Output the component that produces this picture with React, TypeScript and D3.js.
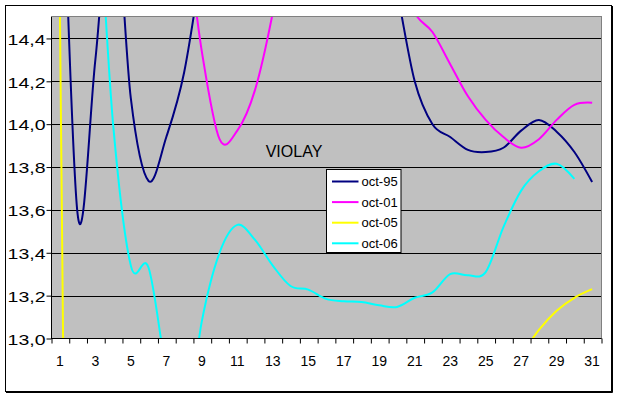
import React, {useEffect, useRef} from 'react'
import * as d3 from 'd3'

const width = 619
const height = 397
const plot = {left: 51, right: 601, top: 17, bottom: 338.5}

const days = d3.range(1, 32)
const seriesNames = ['oct-95', 'oct-01', 'oct-05', 'oct-06']
const seriesColors = ['#000080', '#FF00FF', '#FFFF00', '#00FFFF']

// values, values above 14,5 / below 13,0 run off the plot
const oct95 = [15.7, 13.58, 14.3, 15.1, 14.12, 13.735, 13.94, 14.24, 14.75, 15.3,
    15.6, 15.8, 15.9, 15.9, 15.8, 15.7, 15.5, 15.3, 15.0, 14.62,
    14.2, 14.0, 13.94, 13.88, 13.87, 13.89, 13.97, 14.02, 13.965, 13.87, 13.73]
const oct01 = [15.6, 15.6, 15.5, 15.5, 15.4, 15.4, 15.3, 14.95, 14.34, 13.93,
    13.97, 14.16, 14.52, 15.0, 15.3, 15.4, 15.4, 15.3, 15.1, 14.75,
    14.52, 14.43, 14.28, 14.13, 14.02, 13.94, 13.89, 13.93, 14.02, 14.09, 14.1]
const oct05 = [14.55, 6, null, null, null, null, null, null, null, null,
    null, null, null, null, null, null, null, null, null, null,
    null, null, null, null, null, null, 12.92, 13.04, 13.13, 13.19, 13.23]
const oct06 = [15.5, 15.6, 15.2, 14.0, 13.34, 13.33, 12.85, 12.55, 13.08, 13.4,
    13.53, 13.46, 13.34, 13.245, 13.228, 13.185, 13.174, 13.17, 13.155, 13.147,
    13.19, 13.215, 13.3, 13.295, 13.31, 13.52, 13.69, 13.78, 13.815, 13.745, null]

const yTicks = [13.0, 13.2, 13.4, 13.6, 13.8, 14.0, 14.2, 14.4]
const xLabels = days.filter(d => d % 2 === 1)
const title = 'VIOLAY'

export default function App() {
    const ref = useRef<SVGSVGElement>(null)

    useEffect(() => {
        const svg = d3.select(ref.current)
        svg.selectAll('*').remove()

        const font = '"Liberation Sans", Arial, sans-serif'
        const allSeries = [oct95, oct01, oct05, oct06]

        const x = d3.scaleLinear().domain([0.5, 31.5]).range([plot.left, plot.right])
        const y = d3.scaleLinear().domain([13, 14.5]).range([plot.bottom, plot.top])

        // chart area
        svg.append('rect')
            .attr('x', 5.5).attr('y', 5.5)
            .attr('width', 606).attr('height', 386)
            .attr('fill', '#fff').attr('stroke', '#000')
        svg.append('path')
            .attr('d', 'M612.5,6V392.5H6')
            .attr('fill', 'none').attr('stroke', '#000')

        // plot area
        svg.append('rect')
            .attr('x', plot.left + 0.5).attr('y', plot.top - 0.5)
            .attr('width', plot.right - plot.left).attr('height', plot.bottom - plot.top + 0.5)
            .attr('fill', '#C0C0C0').attr('stroke', '#808080')

        // gridlines
        svg.append('g')
            .selectAll('line')
            .data(yTicks.slice(1))
            .join('line')
            .attr('x1', plot.left).attr('x2', plot.right)
            .attr('y1', d => Math.round(y(d)) + 0.5)
            .attr('y2', d => Math.round(y(d)) + 0.5)
            .attr('stroke', '#000')

        // clipped series
        svg.append('clipPath').attr('id', 'plotClip')
            .append('rect')
            .attr('x', plot.left).attr('y', plot.top)
            .attr('width', plot.right - plot.left).attr('height', plot.bottom - plot.top)

        const line = d3.line<number | null>()
            .defined(d => d !== null)
            .x((_, i) => x(days[i]))
            .y(d => y(d as number))
            .curve(d3.curveCardinal.tension(0))

        svg.append('g')
            .attr('clip-path', 'url(#plotClip)')
            .selectAll('path')
            .data(allSeries)
            .join('path')
            .attr('d', d => line(d))
            .attr('fill', 'none')
            .attr('stroke', (_, i) => seriesColors[i])
            .attr('stroke-width', 2)
            .attr('stroke-linejoin', 'round')

        // y axis
        const fmt = d3.formatLocale({decimal: ',', thousands: '.', grouping: [3], currency: ['', '']}).format('.1f')
        const yAxis = d3.axisLeft(y).tickValues(yTicks).tickSize(5).tickPadding(0).tickFormat(d => fmt(d as number))
        const yAxisGroup = svg.append('g').attr('transform', `translate(${plot.left + 0.5}, 0.5)`).call(yAxis)
        yAxisGroup.select('.domain').attr('d', `M0,${plot.top - 0.5}V${plot.bottom}`).attr('stroke', '#000')
        yAxisGroup.selectAll('.tick line').attr('stroke', '#000').attr('transform', 'translate(0,-0.5)')
        yAxisGroup.selectAll('.tick text')
            .attr('x', -6 / 1.3)
            .attr('dy', '0.35em')
            .attr('transform', 'scale(1.3,1)')
            .attr('font-family', font).attr('font-size', 15).attr('fill', '#000')

        // x axis
        const xAxis = d3.axisBottom(x).tickValues(d3.range(0.5, 32, 1)).tickSize(5).tickFormat(() => '')
        const xAxisGroup = svg.append('g').attr('transform', `translate(0.5, ${plot.bottom})`).call(xAxis)
        xAxisGroup.select('.domain').attr('d', `M${plot.left},0H${plot.right}`).attr('stroke', '#000')
        xAxisGroup.selectAll('.tick line').attr('stroke', '#000')

        svg.append('g')
            .selectAll('text')
            .data(xLabels)
            .join('text')
            .attr('x', d => x(d))
            .attr('y', 366)
            .attr('text-anchor', 'middle')
            .attr('font-family', font).attr('font-size', 14)
            .text(d => d)

        // title
        svg.append('text')
            .attr('x', 294).attr('y', 157)
            .attr('text-anchor', 'middle')
            .attr('font-family', font).attr('font-size', 16)
            .text(title)

        // legend
        const legend = svg.append('g').attr('transform', 'translate(326.5, 169.5)')
        legend.append('rect')
            .attr('width', 74.5).attr('height', 83)
            .attr('fill', '#fff').attr('stroke', '#000')
        const rows = legend.selectAll('g.row')
            .data(seriesNames)
            .join('g')
            .attr('class', 'row')
            .attr('transform', (_, i) => `translate(0, ${12 + i * 20.6})`)
        rows.append('line')
            .attr('x1', 5.5).attr('x2', 32)
            .attr('stroke', (_, i) => seriesColors[i])
            .attr('stroke-width', 2)
        rows.append('text')
            .attr('x', 35).attr('dy', '0.35em')
            .attr('font-family', font).attr('font-size', 13)
            .text(d => d)
    }, [])

    return (
        <svg ref={ref} width={width} height={height}
             style={{position: 'absolute', left: 0, top: 0, background: '#fff'}} />
    )
}
